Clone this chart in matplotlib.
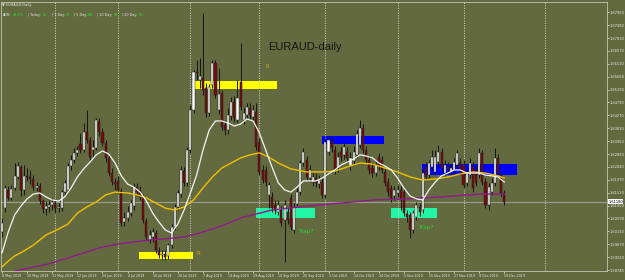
import matplotlib
matplotlib.use('Agg')
import matplotlib.pyplot as plt
from matplotlib.patches import Rectangle
import matplotlib.transforms as mtransforms

# daily bars, index 0 = 8 May 2019
opens = [1.6011, 1.6096, 1.6161, 1.6132, 1.6168, 1.6207, 1.6243, 1.6161, 1.6211, 1.6207,
         1.6200, 1.6168, 1.6175, 1.6121, 1.6093, 1.6100, 1.6107, 1.6114, 1.6096, 1.6096,
         1.6153, 1.6161, 1.6246, 1.6268, 1.6293, 1.6325, 1.6303, 1.6368, 1.6339, 1.6303,
         1.6310, 1.6403, 1.6368, 1.6328, 1.6275, 1.6221, 1.6189, 1.6193, 1.6157, 1.6046,
         1.6061, 1.6078, 1.6103, 1.6171, 1.6157, 1.6136, 1.6050, 1.5982, 1.5993, 1.6007,
         1.5943, 1.5929, 1.5932, 1.5925, 1.5964, 1.6028, 1.6100, 1.6146, 1.6228, 1.6186,
         1.6303, 1.6446, 1.6582, 1.6553, 1.6560, 1.6525, 1.6436, 1.6535, 1.6614, 1.6446,
         1.6507, 1.6393, 1.6375, 1.6425, 1.6475, 1.6411, 1.6546, 1.6411, 1.6428, 1.6453,
         1.6421, 1.6439, 1.6332, 1.6232, 1.6232, 1.6143, 1.6136, 1.6107, 1.6082, 1.6089,
         1.6054, 1.6082, 1.6132, 1.6018, 1.6111, 1.6153, 1.6257, 1.6268, 1.6203, 1.6189,
         1.6203, 1.6182, 1.6189, 1.6143, 1.6296, 1.6336, 1.6303, 1.6239, 1.6296, 1.6286,
         1.6296, 1.6246, 1.6264, 1.6286, 1.6321, 1.6382, 1.6303, 1.6268, 1.6239, 1.6221,
         1.6278, 1.6268, 1.6225, 1.6189, 1.6168, 1.6139, 1.6150, 1.6161, 1.6153, 1.6075,
         1.6071, 1.6018, 1.6064, 1.6100, 1.6089, 1.6243, 1.6214, 1.6243, 1.6225, 1.6260,
         1.6296, 1.6221, 1.6243, 1.6225, 1.6232, 1.6250, 1.6257, 1.6250, 1.6186, 1.6214,
         1.6243, 1.6232, 1.6214, 1.6293, 1.6189, 1.6107, 1.6153, 1.6186, 1.6275, 1.6214,
         1.6150]
highs = [1.6061, 1.6178, 1.6175, 1.6178, 1.6257, 1.6260, 1.6250, 1.6250, 1.6239, 1.6232,
         1.6214, 1.6189, 1.6186, 1.6129, 1.6121, 1.6125, 1.6132, 1.6125, 1.6114, 1.6161,
         1.6196, 1.6257, 1.6286, 1.6310, 1.6318, 1.6364, 1.6400, 1.6446, 1.6350, 1.6339,
         1.6418, 1.6418, 1.6382, 1.6339, 1.6286, 1.6239, 1.6203, 1.6211, 1.6168, 1.6082,
         1.6103, 1.6125, 1.6186, 1.6186, 1.6175, 1.6146, 1.6061, 1.6018, 1.6025, 1.6018,
         1.5957, 1.5946, 1.5946, 1.5971, 1.6039, 1.6111, 1.6161, 1.6246, 1.6243, 1.6314,
         1.6464, 1.6589, 1.6625, 1.6632, 1.6793, 1.6543, 1.6539, 1.6625, 1.6625, 1.6596,
         1.6518, 1.6411, 1.6453, 1.6493, 1.6496, 1.6553, 1.6685, 1.6453, 1.6471, 1.6471,
         1.6464, 1.6471, 1.6346, 1.6250, 1.6246, 1.6189, 1.6153, 1.6125, 1.6125, 1.6103,
         1.6125, 1.6096, 1.6146, 1.6114, 1.6168, 1.6268, 1.6310, 1.6282, 1.6250, 1.6225,
         1.6221, 1.6214, 1.6203, 1.6346, 1.6354, 1.6350, 1.6318, 1.6296, 1.6314, 1.6332,
         1.6314, 1.6296, 1.6318, 1.6375, 1.6411, 1.6396, 1.6318, 1.6286, 1.6257, 1.6268,
         1.6293, 1.6282, 1.6239, 1.6203, 1.6178, 1.6175, 1.6178, 1.6175, 1.6168, 1.6089,
         1.6082, 1.6089, 1.6118, 1.6114, 1.6232, 1.6260, 1.6268, 1.6303, 1.6303, 1.6321,
         1.6310, 1.6268, 1.6260, 1.6253, 1.6275, 1.6303, 1.6275, 1.6268, 1.6232, 1.6275,
         1.6260, 1.6250, 1.6310, 1.6303, 1.6203, 1.6186, 1.6203, 1.6310, 1.6289, 1.6225,
         1.6161]
lows = [1.5993, 1.6082, 1.6125, 1.6125, 1.6161, 1.6200, 1.6139, 1.6143, 1.6193, 1.6182,
        1.6161, 1.6157, 1.6111, 1.6078, 1.6071, 1.6082, 1.6089, 1.6078, 1.6082, 1.6086,
        1.6143, 1.6153, 1.6232, 1.6257, 1.6282, 1.6293, 1.6296, 1.6328, 1.6268, 1.6278,
        1.6303, 1.6354, 1.6318, 1.6260, 1.6211, 1.6178, 1.6161, 1.6150, 1.6032, 1.6032,
        1.6050, 1.6068, 1.6089, 1.6139, 1.6125, 1.6043, 1.5982, 1.5971, 1.5975, 1.5936,
        1.5918, 1.5914, 1.5911, 1.5914, 1.5954, 1.6018, 1.6089, 1.6136, 1.6175, 1.6175,
        1.6293, 1.6436, 1.6553, 1.6525, 1.6500, 1.6421, 1.6425, 1.6525, 1.6489, 1.6432,
        1.6375, 1.6357, 1.6361, 1.6411, 1.6403, 1.6400, 1.6446, 1.6396, 1.6418, 1.6411,
        1.6407, 1.6303, 1.6214, 1.6186, 1.6175, 1.6096, 1.6082, 1.6075, 1.6071, 1.6032,
        1.5904, 1.6039, 1.6018, 1.6007, 1.6103, 1.6143, 1.6246, 1.6196, 1.6189, 1.6175,
        1.6171, 1.6168, 1.6132, 1.6132, 1.6286, 1.6296, 1.6218, 1.6225, 1.6264, 1.6271,
        1.6260, 1.6232, 1.6250, 1.6275, 1.6310, 1.6293, 1.6257, 1.6218, 1.6207, 1.6211,
        1.6232, 1.6221, 1.6175, 1.6139, 1.6118, 1.6125, 1.6136, 1.6089, 1.6068, 1.6046,
        1.5989, 1.6007, 1.6054, 1.6068, 1.6078, 1.6196, 1.6203, 1.6232, 1.6214, 1.6246,
        1.6225, 1.6211, 1.6221, 1.6211, 1.6218, 1.6239, 1.6218, 1.6168, 1.6175, 1.6203,
        1.6153, 1.6175, 1.6203, 1.6178, 1.6096, 1.6089, 1.6143, 1.6175, 1.6211, 1.6139,
        1.6107]
closes = [1.6043, 1.6168, 1.6132, 1.6164, 1.6211, 1.6246, 1.6161, 1.6211, 1.6207, 1.6200,
          1.6171, 1.6175, 1.6121, 1.6093, 1.6103, 1.6107, 1.6118, 1.6096, 1.6100, 1.6153,
          1.6186, 1.6246, 1.6268, 1.6293, 1.6303, 1.6303, 1.6368, 1.6339, 1.6278, 1.6314,
          1.6411, 1.6368, 1.6328, 1.6275, 1.6221, 1.6189, 1.6182, 1.6161, 1.6043, 1.6061,
          1.6082, 1.6114, 1.6171, 1.6153, 1.6136, 1.6054, 1.5993, 1.6000, 1.6011, 1.5946,
          1.5929, 1.5932, 1.5921, 1.5964, 1.6028, 1.6100, 1.6150, 1.6232, 1.6186, 1.6303,
          1.6446, 1.6582, 1.6578, 1.6568, 1.6518, 1.6436, 1.6528, 1.6614, 1.6500, 1.6503,
          1.6385, 1.6375, 1.6428, 1.6475, 1.6418, 1.6489, 1.6457, 1.6436, 1.6457, 1.6428,
          1.6446, 1.6314, 1.6225, 1.6196, 1.6189, 1.6178, 1.6096, 1.6089, 1.6107, 1.6043,
          1.6107, 1.6054, 1.6028, 1.6100, 1.6153, 1.6257, 1.6296, 1.6207, 1.6232, 1.6207,
          1.6186, 1.6196, 1.6143, 1.6332, 1.6339, 1.6310, 1.6232, 1.6278, 1.6278, 1.6314,
          1.6275, 1.6275, 1.6296, 1.6361, 1.6382, 1.6303, 1.6268, 1.6232, 1.6221, 1.6250,
          1.6243, 1.6232, 1.6186, 1.6153, 1.6132, 1.6161, 1.6161, 1.6125, 1.6078, 1.6064,
          1.6018, 1.6078, 1.6107, 1.6082, 1.6221, 1.6207, 1.6257, 1.6278, 1.6278, 1.6296,
          1.6239, 1.6250, 1.6236, 1.6239, 1.6260, 1.6293, 1.6232, 1.6178, 1.6221, 1.6257,
          1.6168, 1.6186, 1.6293, 1.6189, 1.6107, 1.6171, 1.6186, 1.6275, 1.6221, 1.6150,
          1.6118]

# moving averages (bar index, price)
fast_idx = [0, 2, 4, 6, 8, 10, 12, 14, 16, 18, 20, 22, 24, 26, 28, 30, 32, 34, 36, 38,
            40, 42, 44, 46, 48, 50, 52, 54, 56, 58, 60, 62, 64, 66, 68, 70, 72, 74, 76, 78,
            80, 82, 84, 86, 88, 90, 92, 94, 96, 98, 100, 102, 104, 106, 108, 110, 112, 114,
            116, 118, 120, 122, 124, 126, 128, 130, 132, 134, 136, 138, 140, 142, 144, 146,
            148, 150, 152, 154, 156, 158, 160]
fast_ma = [1.5936, 1.6011, 1.6071, 1.6103, 1.6129, 1.6146, 1.6150, 1.6136, 1.6125, 1.6121,
           1.6136, 1.6168, 1.6207, 1.6236, 1.6260, 1.6286, 1.6300, 1.6289, 1.6257, 1.6211,
           1.6182, 1.6171, 1.6153, 1.6121, 1.6078, 1.6046, 1.6018, 1.6007, 1.6039, 1.6089,
           1.6150, 1.6214, 1.6303, 1.6375, 1.6407, 1.6407, 1.6400, 1.6389, 1.6396, 1.6414,
           1.6407, 1.6364, 1.6303, 1.6243, 1.6186, 1.6161, 1.6153, 1.6171, 1.6193, 1.6193,
           1.6193, 1.6203, 1.6218, 1.6232, 1.6250, 1.6260, 1.6271, 1.6286, 1.6282, 1.6275,
           1.6257, 1.6246, 1.6232, 1.6203, 1.6168, 1.6139, 1.6129, 1.6125, 1.6161, 1.6189,
           1.6211, 1.6221, 1.6232, 1.6232, 1.6221, 1.6221, 1.6221, 1.6214, 1.6211, 1.6207,
           1.6189]
mid_idx = [0, 2, 4, 7, 10, 14, 18, 21, 24, 27, 30, 33, 36, 40, 43, 46, 49, 52, 55, 58,
           61, 64, 67, 70, 73, 76, 79, 82, 85, 88, 92, 97, 102, 106, 110, 114, 118, 122,
           126, 130, 134, 138, 142, 146, 150, 154, 158, 160]
mid_ma = [1.5886, 1.5907, 1.5925, 1.5943, 1.5964, 1.6000, 1.6021, 1.6039, 1.6078, 1.6100,
          1.6118, 1.6143, 1.6153, 1.6150, 1.6143, 1.6132, 1.6114, 1.6096, 1.6089, 1.6100,
          1.6125, 1.6168, 1.6207, 1.6239, 1.6257, 1.6275, 1.6286, 1.6293, 1.6278, 1.6257,
          1.6236, 1.6225, 1.6225, 1.6228, 1.6243, 1.6257, 1.6253, 1.6239, 1.6225, 1.6207,
          1.6196, 1.6200, 1.6207, 1.6218, 1.6225, 1.6221, 1.6211, 1.6203]
slow_idx = [4, 15, 25, 31, 37, 42, 47, 52, 58, 63, 70, 76, 86, 97, 108, 118, 129, 140, 152, 160]
slow_ma = [1.5871, 1.5897, 1.5932, 1.5954, 1.5968, 1.5975, 1.5982, 1.5986, 1.5993, 1.6007,
           1.6032, 1.6061, 1.6089, 1.6103, 1.6114, 1.6125, 1.6129, 1.6136, 1.6146, 1.6146]

date_labels = ['8 May 2019', '20 May 2019', '31 May 2019', '12 Jun 2019', '24 Jun 2019',
               '4 Jul 2019', '16 Jul 2019', '26 Jul 2019', '7 Aug 2019', '19 Aug 2019',
               '29 Aug 2019', '10 Sep 2019', '20 Sep 2019', '2 Oct 2019', '14 Oct 2019',
               '24 Oct 2019', '5 Nov 2019', '15 Nov 2019', '27 Nov 2019', '9 Dec 2019',
               '19 Dec 2019']
price_labels = ['1.67950', '1.67490', '1.67030', '1.66570', '1.66110', '1.65650', '1.65190',
                '1.64730', '1.64270', '1.63810', '1.63350', '1.62890', '1.62430', '1.61970',
                '1.61510', '1.61050', '1.60590', '1.60130', '1.59670', '1.59210', '1.58740']
month_starts = [17, 37, 60, 82, 103, 126, 147, 173]
last_price = 1.61180

# drawn zones: start bar, end bar, low, high
zone_start = [60.8, 43.6, 101.9, 133.8, 80.9, 123.9]
zone_end = [87.6, 60.8, 121.7, 164.0, 99.7, 138.7]
zone_low = [1.6521, 1.5913, 1.6325, 1.6214, 1.6062, 1.6062]
zone_high = [1.6551, 1.5939, 1.6354, 1.6253, 1.6096, 1.6095]
zone_colors = ['#ffff00', '#ffff00', '#0000ff', '#0000ff', '#22f5a5', '#22f5a5']

bg = '#636a3f'
fg = '#e8e8e0'
plt.rcParams['font.family'] = ['DejaVu Sans']

fig = plt.figure(figsize=(6.25, 2.8), dpi=100, facecolor=bg)
ax = fig.add_axes([1 / 625, 9 / 280, 606 / 625, 269.5 / 280])
ax.set_facecolor(bg)

for s, e, lo, hi, col in zip(zone_start, zone_end, zone_low, zone_high, zone_colors):
    ax.add_patch(Rectangle((s, lo), e - s, hi - lo, facecolor=col, edgecolor='none', zorder=1))

for m in month_starts:
    ax.axvline(m, color='#d0d0c8', lw=0.6, ls=(0, (1.5, 1.5)), zorder=1.5)

ax.axhline(last_price, color='#9a9e8c', lw=0.8, zorder=1.6)

idx = list(range(len(closes)))
ax.vlines(idx, lows, highs, color='#151515', lw=0.7, zorder=2)
body_low = [min(o, c) for o, c in zip(opens, closes)]
body_h = [max(abs(c - o), 0.00008) for o, c in zip(opens, closes)]
body_col = ['#ffffff' if c >= o else '#7a0a0a' for o, c in zip(opens, closes)]
ax.bar(idx, body_h, bottom=body_low, width=0.66, color=body_col,
       edgecolor='#202020', linewidth=0.35, zorder=3)

ax.plot(slow_idx, slow_ma, color='#8e1a8e', lw=1.0, zorder=4)
ax.plot(mid_idx, mid_ma, color='#f0c000', lw=1.0, zorder=4)
ax.plot(fast_idx, fast_ma, color='#f4f4f4', lw=0.9, zorder=4)

ax.text(84.7, 1.6671, 'EURAUD-daily', fontsize=8, color='#151515',
        family='Liberation Sans', va='center', ha='left', zorder=5)
ax.text(83.8, 1.6603, 'R', fontsize=4, color='#e0a020', va='center', zorder=5)
ax.text(61.8, 1.5934, 'R', fontsize=4, color='#e0a020', va='center', zorder=5)
ax.text(94.3, 1.6011, 'Trap?', fontsize=4.2, color='#2ed03a', va='center', zorder=5)
ax.text(132.4, 1.6025, 'Trap?', fontsize=4.2, color='#2ed03a', va='center', zorder=5)

ax.set_xlim(-0.32, 192.7)
ax.set_ylim(1.58714, 1.68335)

price_vals = [float(p) for p in price_labels]
ax.yaxis.tick_right()
ax.set_yticks(price_vals)
ax.set_yticklabels(price_labels)
ax.set_xticks(list(range(0, 161, 8)))
ax.set_xticklabels(date_labels)
for lab in ax.get_xticklabels():
    lab.set_ha('left')
ax.tick_params(axis='y', labelsize=2.6, colors=fg, length=1.2, width=0.5, pad=0.4)
ax.tick_params(axis='x', labelsize=2.3, colors=fg, length=1.5, width=0.5, pad=0.8)
for sp in ax.spines.values():
    sp.set_color('#c4c6b4')
    sp.set_linewidth(0.6)

trans = mtransforms.blended_transform_factory(ax.transAxes, ax.transData)
ax.text(1.002, last_price, '%.5f' % last_price, transform=trans, fontsize=2.6,
        color='#000000', va='center', ha='left', clip_on=False,
        bbox=dict(boxstyle='square,pad=0.12', facecolor='white', edgecolor='none'), zorder=6)

# header lines
fig.text(2 / 625, 1 - 5 / 280, '\u25bc EURAUD,Daily', fontsize=2.6, color=fg, va='center')
hdr = [('ADR:', 3, fg), ('46.2%', 13, '#22ee22'), ('| Today:', 28, fg), ('40', 43, '#22ee22'),
       ('| 1 Day:', 52, fg), ('34', 66, '#22ee22'), ('| 5 Day:', 74, fg), ('108', 87, '#22ee22'),
       ('| 10 Day:', 97, fg), ('90', 114, '#22ee22'), ('| 20 Day:', 122, fg), ('91', 139, '#22ee22')]
for txt, xp, col in hdr:
    fig.text(xp / 625, 1 - 15 / 280, txt, fontsize=2.4, color=col, va='center')

fig.savefig('out.png', dpi=100, facecolor=bg)
